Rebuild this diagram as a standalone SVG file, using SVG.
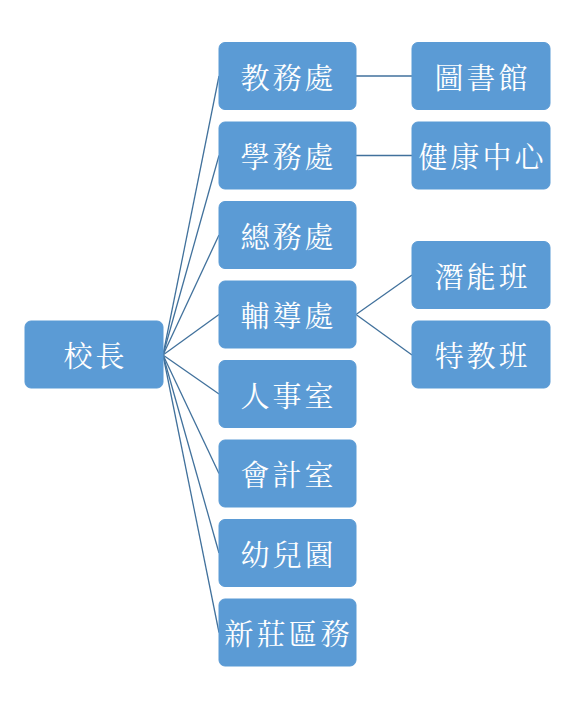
<svg xmlns="http://www.w3.org/2000/svg" width="582" height="717" viewBox="0 0 582 717">
<style>
.box{fill:#5B9BD5;stroke:#5B9BD5;stroke-width:1}
.t{font-family:"Noto Serif CJK TC","Noto Sans CJK TC",serif;font-size:29px;fill:#fff;text-anchor:middle;dominant-baseline:central;letter-spacing:3px}
.c{stroke:#41719C;stroke-width:1.3;fill:none}
</style>
<rect width="582" height="717" fill="#fff"/>
<g id="connectors">
<line class="c" x1="163" y1="355" x2="219" y2="76"/>
<line class="c" x1="163" y1="355" x2="219" y2="155.5"/>
<line class="c" x1="163" y1="355" x2="219" y2="235"/>
<line class="c" x1="163" y1="355" x2="219" y2="314.5"/>
<line class="c" x1="163" y1="355" x2="219" y2="394"/>
<line class="c" x1="163" y1="355" x2="219" y2="473.5"/>
<line class="c" x1="163" y1="355" x2="219" y2="553"/>
<line class="c" x1="163" y1="355" x2="219" y2="632.5"/>
<line class="c" x1="356" y1="76" x2="412" y2="76"/>
<line class="c" x1="356" y1="155.5" x2="412" y2="155.5"/>
<line class="c" x1="356" y1="314.5" x2="412" y2="275"/>
<line class="c" x1="356" y1="314.5" x2="412" y2="355"/>
</g>
<g id="n-root"><rect class="box" x="25" y="321" width="138" height="67" rx="6"/><text class="t" x="95.5" y="354.5">校長</text></g>
<g id="n1"><rect class="box" x="219" y="42.5" width="137" height="67" rx="6"/><text class="t" x="288.5" y="76">教務處</text></g>
<g id="n2"><rect class="box" x="219" y="122" width="137" height="67" rx="6"/><text class="t" x="288.5" y="155.5">學務處</text></g>
<g id="n3"><rect class="box" x="219" y="201.5" width="137" height="67" rx="6"/><text class="t" x="288.5" y="235">總務處</text></g>
<g id="n4"><rect class="box" x="219" y="281" width="137" height="67" rx="6"/><text class="t" x="288.5" y="314.5">輔導處</text></g>
<g id="n5"><rect class="box" x="219" y="360.5" width="137" height="67" rx="6"/><text class="t" x="288.5" y="394">人事室</text></g>
<g id="n6"><rect class="box" x="219" y="440" width="137" height="67" rx="6"/><text class="t" x="288.5" y="473.5">會計室</text></g>
<g id="n7"><rect class="box" x="219" y="519.5" width="137" height="67" rx="6"/><text class="t" x="288.5" y="553">幼兒園</text></g>
<g id="n8"><rect class="box" x="219" y="599" width="137" height="67" rx="6"/><text class="t" x="288.5" y="632.5">新莊區務</text></g>
<g id="n9"><rect class="box" x="412" y="42.5" width="138" height="67" rx="6"/><text class="t" x="482.5" y="76">圖書館</text></g>
<g id="n10"><rect class="box" x="412" y="122" width="138" height="67" rx="6"/><text class="t" x="482.5" y="155.5">健康中心</text></g>
<g id="n11"><rect class="box" x="412" y="241.5" width="138" height="67" rx="6"/><text class="t" x="482.5" y="275">潛能班</text></g>
<g id="n12"><rect class="box" x="412" y="321" width="138" height="67" rx="6"/><text class="t" x="482.5" y="354.5">特教班</text></g>
</svg>
